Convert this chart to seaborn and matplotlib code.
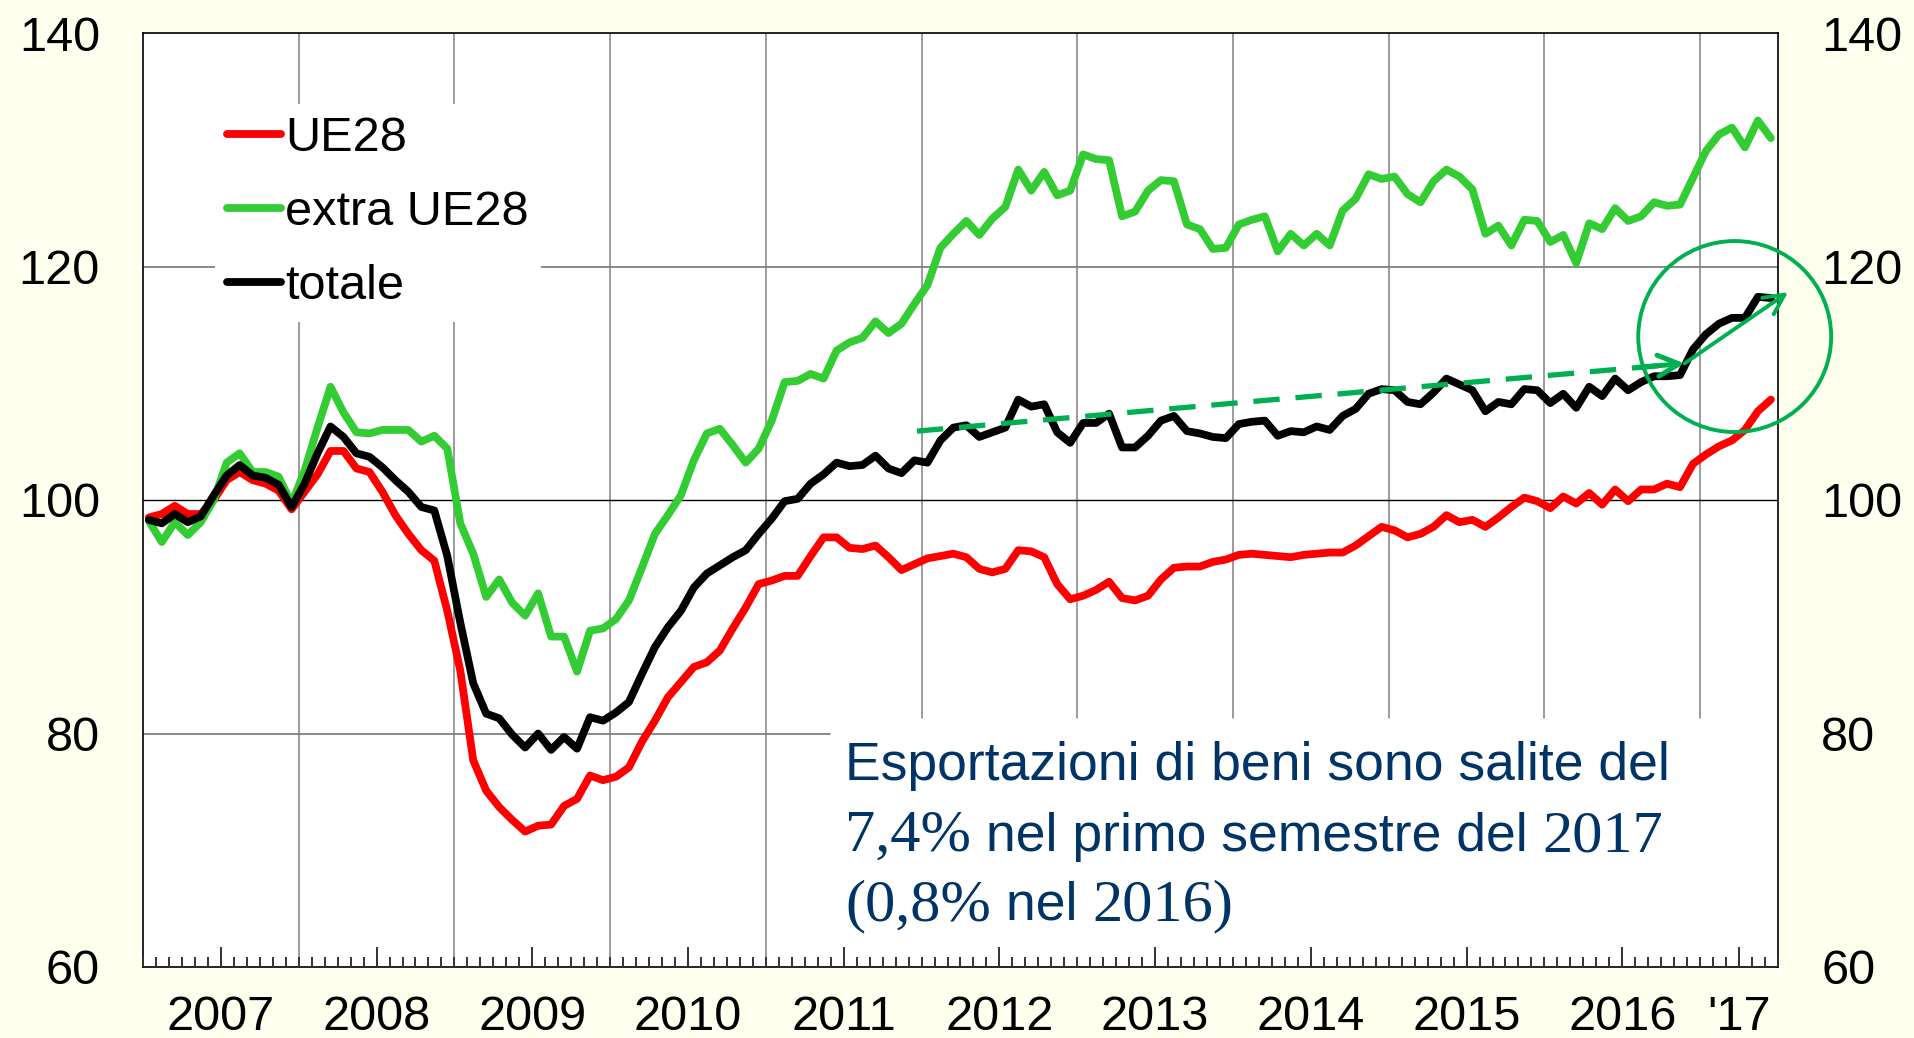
import numpy as np
import pandas as pd
import matplotlib
matplotlib.use("Agg")
import matplotlib.pyplot as plt
from matplotlib.patches import Ellipse
import seaborn as sns

# Esportazioni di beni, indici mensili (gen 2007 - giu 2017)
ue28 = [
    98.5, 98.8, 99.5, 98.8, 98.8, 100.0, 101.7, 102.4, 101.7, 101.4, 100.8, 99.2,   # 2007
    100.7, 102.2, 104.2, 104.2, 102.7, 102.4, 100.7, 98.7, 97.1, 95.7, 94.8, 90.5,  # 2008
    85.4, 77.7, 75.1, 73.7, 72.6, 71.6, 72.1, 72.2, 73.8, 74.4, 76.4, 76.0,         # 2009
    76.3, 77.1, 79.3, 81.1, 83.1, 84.4, 85.7, 86.1, 87.1, 89.0, 90.8, 92.8,         # 2010
    93.1, 93.5, 93.5, 95.2, 96.8, 96.8, 95.9, 95.8, 96.1, 95.1, 94.0, 94.5,         # 2011
    95.0, 95.2, 95.4, 95.1, 94.1, 93.8, 94.1, 95.7, 95.6, 95.1, 92.8, 91.5,         # 2012
    91.8, 92.3, 93.0, 91.6, 91.4, 91.8, 93.2, 94.2, 94.3, 94.3, 94.7, 94.9,         # 2013
    95.3, 95.4, 95.3, 95.2, 95.1, 95.3, 95.4, 95.5, 95.5, 96.1, 96.9, 97.7,         # 2014
    97.4, 96.8, 97.1, 97.7, 98.7, 98.1, 98.3, 97.7, 98.5, 99.4, 100.2, 99.9,        # 2015
    99.3, 100.3, 99.7, 100.6, 99.6, 100.9, 99.9, 100.9, 100.9, 101.4, 101.1, 103.1, # 2016
    103.9, 104.6, 105.1, 106.0, 107.6, 108.6,                                       # 2017
]
extra_ue28 = [
    98.2, 96.4, 98.1, 97.0, 98.1, 100.0, 103.2, 104.0, 102.4, 102.4, 102.0, 99.7,
    102.5, 106.2, 109.7, 107.5, 105.8, 105.7, 106.0, 106.0, 106.0, 105.0, 105.5, 104.4,
    98.0, 95.4, 91.7, 93.2, 91.2, 90.1, 92.0, 88.3, 88.3, 85.3, 88.8, 89.0,
    89.8, 91.4, 94.2, 97.1, 98.7, 100.4, 103.4, 105.7, 106.1, 104.7, 103.2, 104.4,
    106.8, 110.1, 110.2, 110.8, 110.4, 112.8, 113.5, 113.9, 115.3, 114.3, 115.1, 116.8,
    118.4, 121.6, 122.8, 123.9, 122.7, 124.1, 125.1, 128.3, 126.5, 128.1, 126.1, 126.5,
    129.6, 129.2, 129.1, 124.3, 124.7, 126.5, 127.4, 127.3, 123.6, 123.2, 121.5, 121.6,
    123.6, 124.0, 124.3, 121.3, 122.8, 121.8, 122.8, 121.8, 124.8, 125.8, 127.9, 127.5,
    127.7, 126.2, 125.5, 127.3, 128.3, 127.7, 126.6, 122.8, 123.5, 121.8, 124.0, 123.9,
    122.1, 122.7, 120.3, 123.7, 123.2, 125.0, 123.9, 124.3, 125.5, 125.2, 125.3, 127.6,
    129.9, 131.3, 131.9, 130.2, 132.5, 131.0,
]
totale = [
    98.3, 98.0, 98.8, 98.1, 98.6, 100.4, 102.1, 103.0, 102.1, 101.9, 101.3, 99.4,
    101.4, 104.0, 106.3, 105.4, 104.0, 103.7, 102.8, 101.7, 100.7, 99.4, 99.1, 95.2,
    89.5, 84.3, 81.7, 81.3, 79.9, 78.8, 80.0, 78.6, 79.7, 78.7, 81.4, 81.1,
    81.8, 82.7, 85.1, 87.4, 89.1, 90.5, 92.5, 93.7, 94.4, 95.1, 95.7, 97.1,
    98.4, 99.9, 100.1, 101.4, 102.2, 103.2, 102.9, 103.0, 103.8, 102.7, 102.3, 103.4,
    103.2, 105.1, 106.2, 106.4, 105.4, 105.8, 106.2, 108.6, 108.0, 108.2, 105.8, 104.9,
    106.6, 106.6, 107.4, 104.5, 104.5, 105.5, 106.8, 107.2, 105.9, 105.7, 105.4, 105.3,
    106.5, 106.7, 106.8, 105.5, 105.9, 105.8, 106.3, 106.0, 107.2, 107.8, 109.1, 109.5,
    109.4, 108.4, 108.2, 109.2, 110.4, 109.9, 109.4, 107.6, 108.4, 108.2, 109.5, 109.4,
    108.3, 109.1, 107.9, 109.7, 108.9, 110.4, 109.4, 110.1, 110.6, 110.6, 110.7, 112.9,
    114.2, 115.1, 115.6, 115.6, 117.4, 117.3,
]

years = list(range(2007, 2018))
year_labels = ["2007", "2008", "2009", "2010", "2011", "2012",
               "2013", "2014", "2015", "2016", "'17"]
series_names = ["UE28", "extra UE28", "totale"]
colors = {"UE28": "#FF0000", "extra UE28": "#33CC33", "totale": "#000000"}

bg = "#FFFFEE"
note_green = "#00B050"
note_blue = "#003366"

sns.set_theme(style="white")
plt.rcParams["font.family"] = ["Liberation Sans", "DejaVu Sans"]
plt.rcParams["text.color"] = "black"
plt.rcParams["xtick.color"] = "black"
plt.rcParams["ytick.color"] = "black"

# month index -> decimal year (middle of the month)
n = len(totale)
t = 2007 + (np.arange(n) + 0.45) / 12
df = pd.DataFrame({"t": t, "UE28": ue28, "extra UE28": extra_ue28, "totale": totale})
long = df.melt(id_vars="t", var_name="serie", value_name="indice")

W, H = 1915, 1038
fig = plt.figure(figsize=(W / 100, H / 100), dpi=100, facecolor=bg)
ax = fig.add_axes([143 / W, 1 - 967 / H, (1778 - 143) / W, (967 - 33) / H])
ax.set_facecolor("white")

sns.lineplot(data=long, x="t", y="indice", hue="serie", hue_order=series_names,
             palette=colors, linewidth=5.6, sort=False, ax=ax, zorder=3)

ax.set_xlim(2007, 2017.5)
ax.set_ylim(60, 140)
ax.set_xlabel("")
ax.set_ylabel("")

# grid: year boundaries and horizontal levels, left open where the note sits
note_left = 0.42    # axes fraction
note_top = 0.267
x_cut = 2007 + note_left * 10.5
for yr in years[1:]:
    ax.axvline(yr, ymin=note_top if yr > x_cut else 0, color="#808080",
               lw=1.1, zorder=0.5)
ax.axhline(80, xmax=note_left, color="#808080", lw=1.3, zorder=0.5)
ax.axhline(120, color="#808080", lw=1.3, zorder=0.5)
ax.axhline(100, color="black", lw=1.0, zorder=0.6)

# x axis: labels at mid-year; monthly tick marks drawn along the bottom edge
mid = [y + 0.5 for y in years[:-1]] + [2017.25]
ax.set_xticks(mid)
ax.set_xticklabels(year_labels)
ax.tick_params(axis="x", which="both", length=0, labelsize=35, pad=20,
               colors="black")
months = np.arange(2007, 2017.5 + 1e-6, 1 / 12)
xtr = ax.get_xaxis_transform()
ax.vlines(months, 0, 0.0105, transform=xtr, color="#333333", lw=1.4,
          zorder=2.6, clip_on=False)
ax.vlines(mid, 0, 0.021, transform=xtr, color="#333333", lw=1.4,
          zorder=2.6, clip_on=False)

ax.set_yticks([60, 80, 100, 120, 140])
ax.tick_params(axis="y", which="both", length=0, labelsize=35, labelleft=True,
               labelright=True, pad=31, colors="black")

for sp in ax.spines.values():
    sp.set_visible(True)
    sp.set_color("black")
    sp.set_linewidth(1.2)

# legend
handles, labels = ax.get_legend_handles_labels()
leg = ax.legend(handles, labels, loc="upper left",
                bbox_to_anchor=((215 - 143) / 1635, 1 - (104 - 33) / 934),
                frameon=True, facecolor="white", edgecolor="none", framealpha=1,
                fancybox=False, borderpad=0.25, borderaxespad=0, handlelength=1.1,
                handletextpad=0.1, labelspacing=0.6, fontsize=35)
for txt in leg.get_texts():
    txt.set_color("black")
leg.set_zorder(5)

# trend arrows and circle
x0, y0 = 2011.97, 105.9
x1, y1 = 2016.90, 111.7
ax.plot([x0, x1 - 0.05], [y0, y1 - 0.06], color=note_green, lw=3.8,
        linestyle=(0, (5, 3)), zorder=4)
ax.annotate("", xy=(x1, y1), xytext=(x1 - 0.3, y1 - 0.35),
            arrowprops=dict(arrowstyle="->", color=note_green, lw=3.6,
                            mutation_scale=38, shrinkA=0, shrinkB=0),
            zorder=4, annotation_clip=False)
ax.annotate("", xy=(2017.565, 117.8), xytext=(x1, y1),
            arrowprops=dict(arrowstyle="->", color=note_green, lw=2.8,
                            mutation_scale=36, shrinkA=0, shrinkB=0),
            zorder=4, annotation_clip=False)
ax.add_patch(Ellipse((2017.222, 114.0), 1.239, 16.36, fill=False,
                     edgecolor=note_green, lw=2.8, clip_on=False, zorder=4))

# note with mixed fonts
renderer = fig.canvas.get_renderer()
sans = dict(family=["Liberation Sans", "DejaVu Sans"], size=38.5)
serif = dict(family=["Liberation Serif", "DejaVu Serif"], size=43.5)


def seg_width(s, kw):
    a = fig.text(0, 0, "|" + s + "|", **kw)
    b = fig.text(0, 0, "||", **kw)
    w = a.get_window_extent(renderer).width - b.get_window_extent(renderer).width
    a.remove()
    b.remove()
    return w


def rich_line(x, y, parts):
    for s, kw in parts:
        fig.text(x / W, 1 - y / H, s, va="baseline", ha="left",
                 color=note_blue, zorder=6, **kw)
        x += seg_width(s, kw)


rich_line(845, 780, [("Esportazioni di beni sono salite del", sans)])
rich_line(845, 851, [("7,4%", serif), (" nel primo semestre del ", sans), ("2017", serif)])
rich_line(845, 920, [("(0,8%", serif), (" nel ", sans), ("2016)", serif)])

fig.savefig("out.png", dpi=100, facecolor=bg)
